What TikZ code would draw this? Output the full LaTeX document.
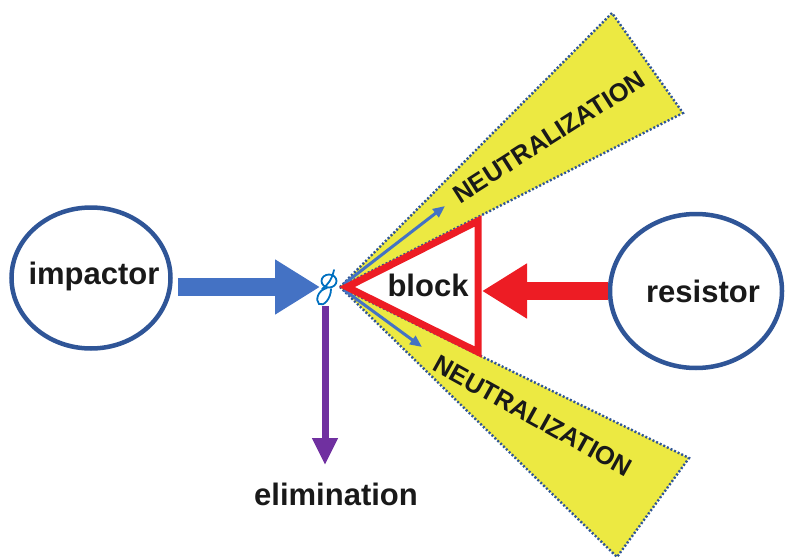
\documentclass[tikz,border=0pt]{standalone}
\usepackage{fontspec}
\setmainfont{Liberation Sans}
\usepackage{xcolor}
\usetikzlibrary{arrows.meta, shapes.geometric, positioning}

\definecolor{azulEscuro}{RGB}{47,85,151}
\definecolor{azul}{RGB}{68,114,196}
\definecolor{vermelho}{RGB}{237,28,36}
\definecolor{roxo}{RGB}{112,48,160}
\definecolor{amarelo}{RGB}{236,233,66}
\definecolor{tinta}{RGB}{0,112,192}

\tikzset{
  corpo/.style={ellipse, draw=azulEscuro, line width=4.5pt, fill=white, inner sep=0pt},
  rotulo/.style={font=\bfseries\fontsize{31}{31}\selectfont, text=black!90},
  neutro/.style={font=\bfseries\fontsize{25.5}{25.5}\selectfont, text=black!90, inner sep=0pt},
  faixa/.style={fill=amarelo, draw=azulEscuro, line width=2.4pt, dash pattern=on 2pt off 2pt},
  setagrossa/.style={line width=18pt, -{Triangle[length=45pt, width=52pt]}},
  setinha/.style={azul, line width=3pt, -{Triangle[length=12pt, width=10pt]}},
  rabisco/.style={tinta, line width=1.8pt, line cap=round},
}

\begin{document}
\begin{tikzpicture}[x=1pt, y=-1pt]
\useasboundingbox (0,0) rectangle (786,559);

% Ponto de impacto
\coordinate (apice) at (340,287);
\coordinate (golpe) at (320,287);

% Faixas de neutralizacao
\draw[faixa] (apice) -- (612,13) -- (683,113) -- cycle;
\draw[faixa] (apice) -- (689,458) -- (617,557) -- cycle;
\node[neutro, rotate=32.5] (neutroA) at (549,137) {NEUTRALIZATION};
\node[neutro, rotate=-29] (neutroB) at (533,416) {NEUTRALIZATION};

% Setas finas de desvio
\coordinate (pontaA) at (445,206);
\coordinate (pontaB) at (422,347);
\draw[setinha, shorten <=5pt] (apice) -- (pontaA);
\draw[setinha, shorten <=5pt] (apice) -- (pontaB);

% Bloco (triangulo vermelho)
\draw[vermelho, line width=7pt] (347,287) -- (478,221) -- (478,352) -- cycle;
\node[rotulo] (block) at (428,285) {block};
\coordinate (blocoDir) at (482,291);

% Impactor e resistor
\node[corpo, minimum width=159pt, minimum height=141pt,
  label={[rotulo, xshift=3pt, yshift=2pt]center:impactor}] (impactor) at (91,278) {};
\node[corpo, minimum width=172pt, minimum height=154pt,
  label={[rotulo, xshift=7pt]center:resistor}] (resistor) at (696,291) {};

% Seta do impactor
\draw[setagrossa, azul, shorten <=5pt] (impactor.east |- golpe) -- (golpe);

% Seta do resistor
\draw[setagrossa, vermelho] (resistor.west) -- (blocoDir);

% Eliminacao
\node[rotulo] (elimination) at (336,494) {elimination};
\coordinate (base) at (325,306);
\draw[roxo, line width=7pt, -{Triangle[length=27pt, width=24pt]}, shorten >=14pt]
  (base) -- (base |- elimination.north);

% Rabisco no ponto de contato
\draw[rabisco] (329,281) ellipse (7.5 and 6.5);
\draw[rabisco] (322,289) .. controls (328,285) and (332,279) .. (334,270);
\draw[rabisco] (327,288) .. controls (318,290) and (315,300) .. (319,304)
  .. controls (324,307) and (331,298) .. (331,289);

\end{tikzpicture}
\end{document}
